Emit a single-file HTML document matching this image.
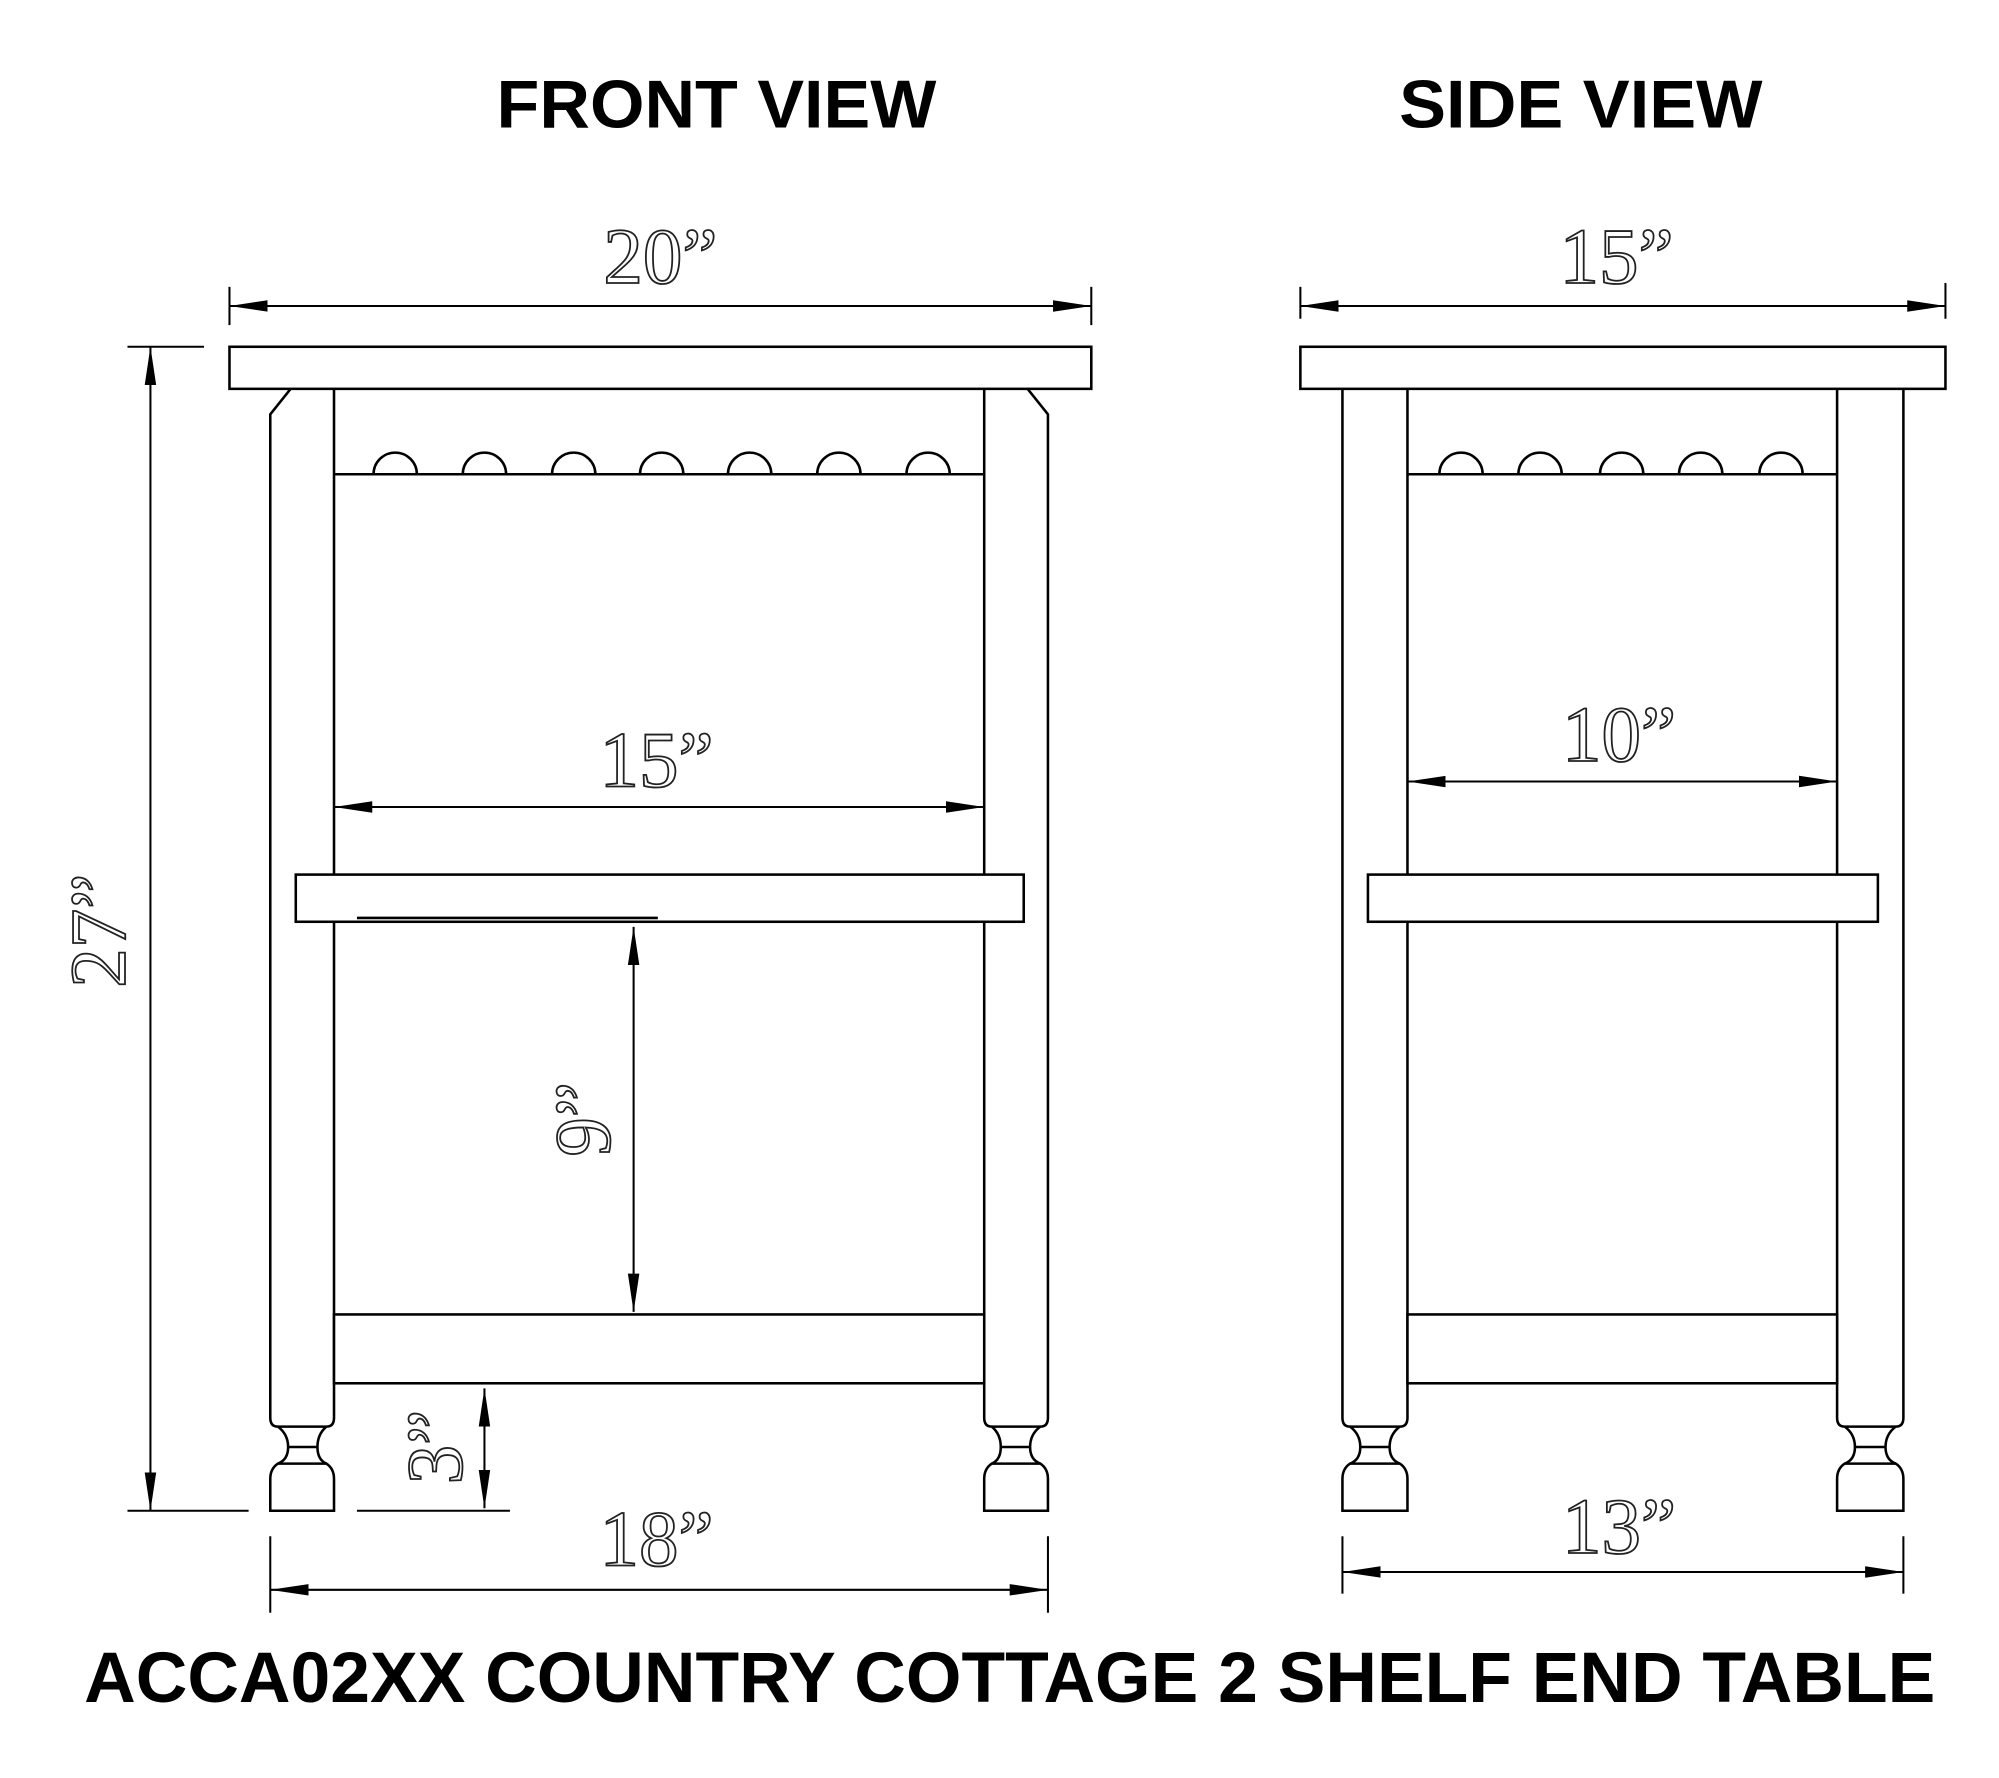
<!DOCTYPE html>
<html><head><style>html,body{margin:0;padding:0;background:#fff}svg{display:block}</style></head>
<body>
<svg width="1999" height="1778" viewBox="0 0 1568 1394.6" preserveAspectRatio="none" xmlns="http://www.w3.org/2000/svg">
<defs>
<marker id="a" viewBox="0 0 30 10" refX="30" refY="5" markerWidth="30" markerHeight="10" markerUnits="userSpaceOnUse" orient="auto-start-reverse"><path d="M0,0.5 L30,5 L0,9.5 Z" fill="#000"/></marker>
</defs>
<g font-family="Liberation Sans, Arial, sans-serif" font-weight="bold" fill="#000">
<text x="562" y="100" font-size="53" text-anchor="middle" textLength="345" lengthAdjust="spacingAndGlyphs">FRONT VIEW</text>
<text x="1240" y="100" font-size="53" text-anchor="middle" textLength="285" lengthAdjust="spacingAndGlyphs">SIDE VIEW</text>
<text x="792" y="1335" font-size="56" text-anchor="middle" textLength="1452" lengthAdjust="spacingAndGlyphs">ACCA02XX COUNTRY COTTAGE 2 SHELF END TABLE</text>
</g>
<g fill="none" stroke="#000" stroke-width="2">
<rect x="180" y="272" width="676" height="33"/>
<path d="M228,305 L212,325 L212,1112 Q212,1119 218,1119 Q226,1125 226,1135 Q226,1145 218,1148 Q212,1152 212,1160 L212,1185 L262,1185 L262,1160 Q262,1152 256,1148 Q249,1145 249,1135 Q249,1125 256,1119 Q262,1119 262,1112 L262,305"/>
<path d="M218,1119 H256 M226,1135 H249 M218,1148 H256"/>
<path d="M806,305 L822,325 L822,1112 Q822,1119 816,1119 Q808,1125 808,1135 Q808,1145 816,1148 Q822,1152 822,1160 L822,1185 L772,1185 L772,1160 Q772,1152 778,1148 Q785,1145 785,1135 Q785,1125 778,1119 Q772,1119 772,1112 L772,305"/>
<path d="M778,1119 H816 M785,1135 H808 M778,1148 H816"/>
<line x1="262" y1="372" x2="772" y2="372"/>
<path d="M293,372 a17,17 0 0 1 34,0 M363,372 a17,17 0 0 1 34,0 M433,372 a17,17 0 0 1 34,0 M502,372 a17,17 0 0 1 34,0 M571,372 a17,17 0 0 1 34,0 M641,372 a17,17 0 0 1 34,0 M711,372 a17,17 0 0 1 34,0"/>
<rect x="232" y="686" width="571" height="37" fill="#fff"/>
<line x1="280" y1="720" x2="516" y2="720"/>
<rect x="262" y="1031" width="510" height="54" fill="#fff"/>
<rect x="1020" y="272" width="506" height="33"/>
<path d="M1053,305 L1053,1112 Q1053,1119 1059,1119 Q1067,1125 1067,1135 Q1067,1145 1059,1148 Q1053,1152 1053,1160 L1053,1185 L1104,1185 L1104,1160 Q1104,1152 1098,1148 Q1090,1145 1090,1135 Q1090,1125 1098,1119 Q1104,1119 1104,1112 L1104,305"/>
<path d="M1059,1119 H1098 M1067,1135 H1090 M1059,1148 H1098"/>
<path d="M1441,305 L1441,1112 Q1441,1119 1447,1119 Q1455,1125 1455,1135 Q1455,1145 1447,1148 Q1441,1152 1441,1160 L1441,1185 L1493,1185 L1493,1160 Q1493,1152 1487,1148 Q1479,1145 1479,1135 Q1479,1125 1487,1119 Q1493,1119 1493,1112 L1493,305"/>
<path d="M1447,1119 H1487 M1455,1135 H1479 M1447,1148 H1487"/>
<line x1="1104" y1="372" x2="1441" y2="372"/>
<path d="M1129,372 a17,17 0 0 1 34,0 M1191,372 a17,17 0 0 1 34,0 M1255,372 a17,17 0 0 1 34,0 M1317,372 a17,17 0 0 1 34,0 M1380,372 a17,17 0 0 1 34,0"/>
<rect x="1073" y="686" width="400" height="37" fill="#fff"/>
<rect x="1104" y="1031" width="337" height="54" fill="#fff"/>
</g>
<g stroke="#000" stroke-width="1.6" fill="none">
<line x1="180" y1="240" x2="856" y2="240" marker-start="url(#a)" marker-end="url(#a)"/>
<line x1="180" y1="225" x2="180" y2="255"/><line x1="856" y1="225" x2="856" y2="255"/>
<line x1="262" y1="633" x2="772" y2="633" marker-start="url(#a)" marker-end="url(#a)"/>
<line x1="118" y1="272" x2="118" y2="1185" marker-start="url(#a)" marker-end="url(#a)"/>
<line x1="100" y1="272" x2="160" y2="272"/><line x1="100" y1="1185" x2="195" y2="1185"/>
<line x1="497" y1="727" x2="497" y2="1029" marker-start="url(#a)" marker-end="url(#a)"/>
<line x1="380" y1="1089" x2="380" y2="1183" marker-start="url(#a)" marker-end="url(#a)"/>
<line x1="280" y1="1185" x2="400" y2="1185"/>
<line x1="212" y1="1247" x2="822" y2="1247" marker-start="url(#a)" marker-end="url(#a)"/>
<line x1="212" y1="1205" x2="212" y2="1265"/><line x1="822" y1="1205" x2="822" y2="1265"/>
<line x1="1020" y1="240" x2="1526" y2="240" marker-start="url(#a)" marker-end="url(#a)"/>
<line x1="1020" y1="225" x2="1020" y2="250"/><line x1="1526" y1="222" x2="1526" y2="250"/>
<line x1="1104" y1="613" x2="1441" y2="613" marker-start="url(#a)" marker-end="url(#a)"/>
<line x1="1053" y1="1233" x2="1493" y2="1233" marker-start="url(#a)" marker-end="url(#a)"/>
<line x1="1053" y1="1205" x2="1053" y2="1250"/><line x1="1493" y1="1205" x2="1493" y2="1250"/>
</g>
<g font-family="Liberation Serif, serif" font-size="62" fill="#fff" stroke="#222" stroke-width="1.4" text-anchor="middle">
<text x="518" y="222">20”</text>
<text x="515" y="617">15”</text>
<text x="515" y="1228">18”</text>
<text x="1268" y="222">15”</text>
<text x="1270" y="597">10”</text>
<text x="1270" y="1218">13”</text>
<text transform="translate(98,730) rotate(-90)">27”</text>
<text transform="translate(478,878) rotate(-90)">9”</text>
<text transform="translate(362,1135) rotate(-90)">3”</text>
</g>
</svg>
</body></html>
